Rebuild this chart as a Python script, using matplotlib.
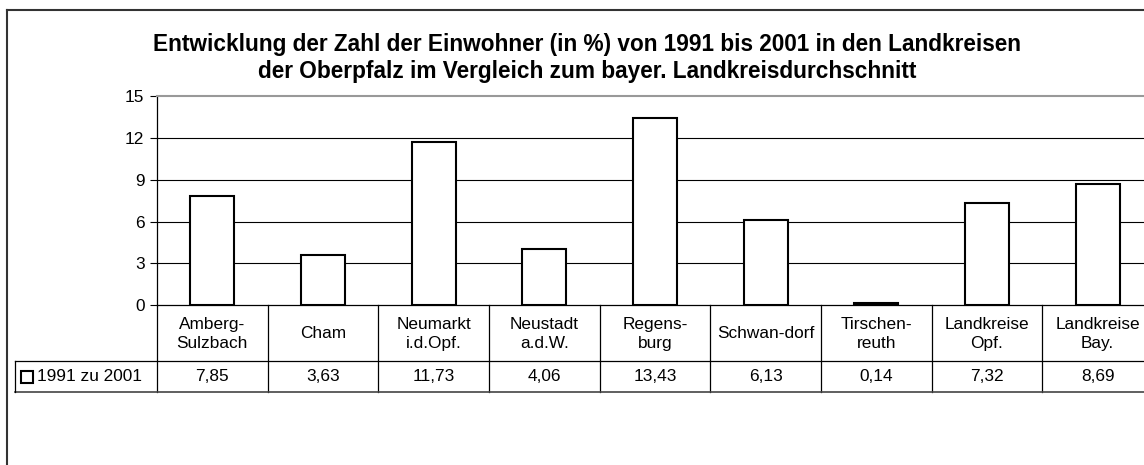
import numpy as np
import matplotlib.pyplot as plt
from matplotlib.lines import Line2D

plt.rcParams['font.family'] = ['Liberation Sans', 'DejaVu Sans']

# data
categories = ['Amberg-\nSulzbach', 'Cham', 'Neumarkt\ni.d.Opf.', 'Neustadt\na.d.W.',
              'Regens-\nburg', 'Schwan-dorf', 'Tirschen-\nreuth', 'Landkreise\nOpf.',
              'Landkreise\nBay.']
values = [7.85, 3.63, 11.73, 4.06, 13.43, 6.13, 0.14, 7.32, 8.69]
series_name = '1991 zu 2001'
title = ('Entwicklung der Zahl der Einwohner (in %) von 1991 bis 2001 in den Landkreisen\n'
         'der Oberpfalz im Vergleich zum bayer. Landkreisdurchschnitt')
yticks = [0, 3, 6, 9, 12, 15]

W, H = 1144, 465
fig = plt.figure(figsize=(W / 100, H / 100), dpi=100)
fs = 12.4

# layout in pixels (plot area runs past the right edge like the original)
left, right = 157, 1153
top, base = 96.5, 305
tab_left, tab_bottom = 15, 392
col_w = (right - left) / len(categories)

ax = fig.add_axes([left / W, (H - base) / H, (right - left) / W, (base - top) / H])
x = np.arange(len(categories)) + 0.5
ax.bar(x, values, width=0.4, color='white', edgecolor='black', linewidth=1.5, zorder=3)
ax.set_xlim(0, len(categories))
ax.set_ylim(yticks[0], yticks[-1])
ax.set_yticks(yticks)
ax.set_xticks([])
ax.hlines(yticks[1:-1], 0, len(categories), color='black', linewidth=0.8, zorder=1)
ax.tick_params(axis='y', length=5, width=0.8, labelsize=fs, pad=4)
for s in ['top', 'right']:
    ax.spines[s].set_color('#999999')
    ax.spines[s].set_linewidth(1.5)
for s in ['left', 'bottom']:
    ax.spines[s].set_color('black')
    ax.spines[s].set_linewidth(0.9)

# data table below the chart
lab_w = (left - tab_left) / col_w
tax = fig.add_axes([tab_left / W, (H - tab_bottom) / H, (right - tab_left) / W,
                    (tab_bottom - base) / H])
tax.set_xlim(-lab_w, len(categories))
row_h = tab_bottom - base
tax.set_ylim(row_h, 0)
tax.axis('off')
hdr = 56
lw = 0.9
for i in range(len(categories) + 1):
    tax.plot([i, i], [0, row_h], color='black', lw=lw, clip_on=False)
tax.plot([-lab_w, len(categories)], [hdr, hdr], color='black', lw=lw, clip_on=False)
tax.plot([-lab_w, len(categories)], [row_h, row_h], color='#444444', lw=1.2, clip_on=False)
tax.plot([-lab_w, -lab_w], [hdr, row_h], color='black', lw=lw, clip_on=False)
for xi, c, v in zip(x, categories, values):
    tax.text(xi, hdr / 2 + 1, c, ha='center', va='center', fontsize=fs, linespacing=1.4)
    tax.text(xi, (hdr + row_h) / 2, f'{v:.2f}'.replace('.', ','), ha='center',
             va='center', fontsize=fs)
key_x = -lab_w + 11.5 / col_w
tax.plot([key_x], [(hdr + row_h) / 2], marker='s', ms=8, mfc='white', mec='black',
         mew=1.5, clip_on=False)
tax.text(-lab_w + 22 / col_w, (hdr + row_h) / 2, series_name, ha='left', va='center',
         fontsize=fs)

# title
fig.text(587 / W, 1 - 58 / H, title, ha='center', va='center', fontsize=16.3,
         fontweight='bold', linespacing=1.2)

# outer chart border (cut off at the right and bottom)
fig.add_artist(Line2D([6.5 / W, 1], [1 - 10 / H, 1 - 10 / H], color='#333333', lw=1.5,
                      transform=fig.transFigure))
fig.add_artist(Line2D([6.5 / W, 6.5 / W], [0, 1 - 10 / H], color='#333333', lw=1.5,
                      transform=fig.transFigure))

plt.savefig('out.png', dpi=100)
